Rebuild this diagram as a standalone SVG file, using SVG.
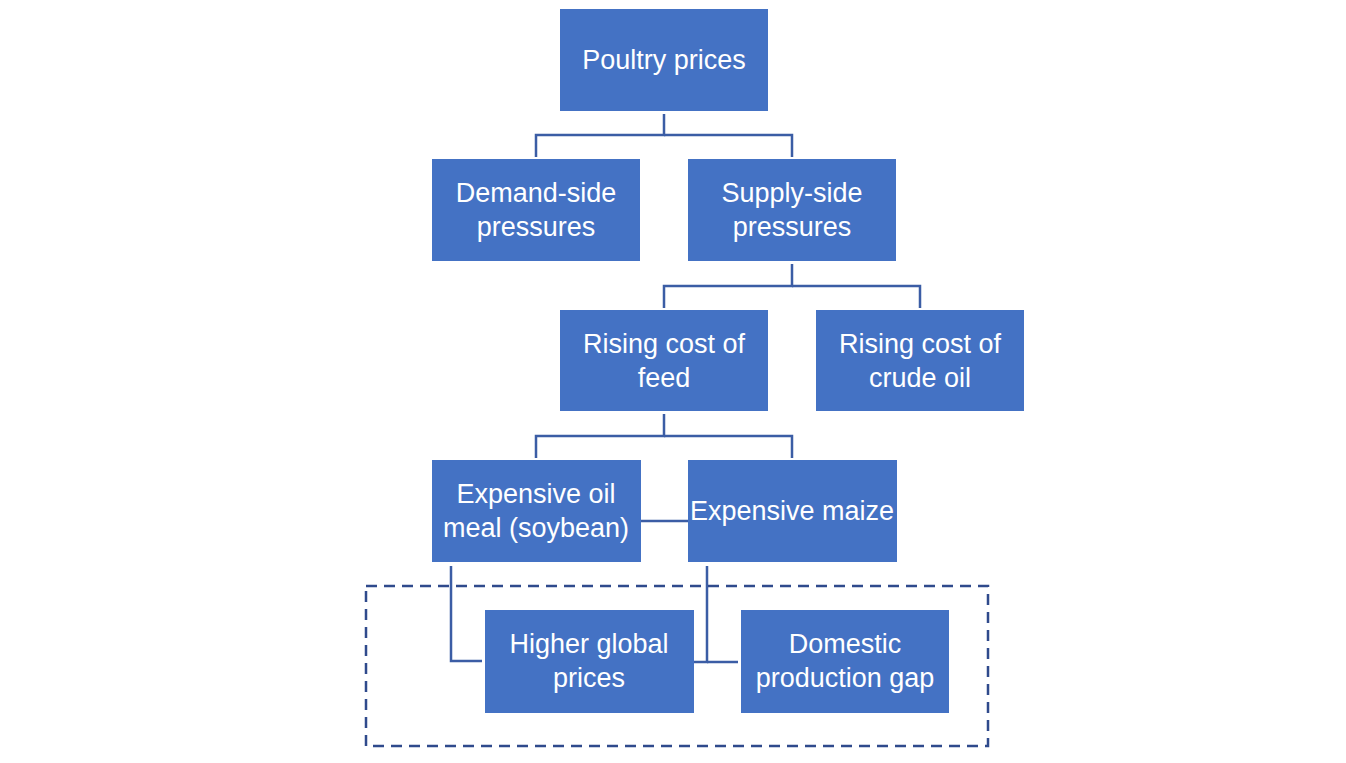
<svg xmlns="http://www.w3.org/2000/svg" width="1346" height="763" viewBox="0 0 1346 763">
<style>
.box{fill:#4472C4;}
.t{font-family:"Liberation Sans",Arial,sans-serif;font-size:27px;fill:#ffffff;text-anchor:middle;}
.c{fill:none;stroke:#3B5DA5;stroke-width:2.5;}
.d{fill:none;stroke:#2F4A8C;stroke-width:2.5;stroke-dasharray:11 7;}
</style>
<rect width="1346" height="763" fill="#ffffff"/>
<g id="connectors">
<polyline class="c" points="664,114 664,135 536,135 536,157"/>
<polyline class="c" points="664,135 792,135 792,157"/>
<polyline class="c" points="792,264 792,286 664,286 664,308"/>
<polyline class="c" points="792,286 920,286 920,308"/>
<polyline class="c" points="664,414 664,436 536,436 536,458"/>
<polyline class="c" points="664,436 792,436 792,458"/>
<line class="c" x1="641" y1="521" x2="688" y2="521"/>
<polyline class="c" points="451,566 451,661 482,661"/>
<polyline class="c" points="707,566 707,662 694,662"/>
<line class="c" x1="707" y1="662" x2="738" y2="662"/>
</g>
<rect id="group-box" class="d" x="366" y="586" width="622" height="160"/>
<g id="poultry"><rect class="box" x="560" y="9" width="208" height="102"/><text class="t" x="664" y="69">Poultry prices</text></g>
<g id="demand"><rect class="box" x="432" y="159" width="208" height="102"/><text class="t" x="536" y="202">Demand-side</text><text class="t" x="536" y="236">pressures</text></g>
<g id="supply"><rect class="box" x="688" y="159" width="208" height="102"/><text class="t" x="792" y="202">Supply-side</text><text class="t" x="792" y="236">pressures</text></g>
<g id="feed"><rect class="box" x="560" y="310" width="208" height="101"/><text class="t" x="664" y="353">Rising cost of</text><text class="t" x="664" y="387">feed</text></g>
<g id="crude"><rect class="box" x="816" y="310" width="208" height="101"/><text class="t" x="920" y="353">Rising cost of</text><text class="t" x="920" y="387">crude oil</text></g>
<g id="oilmeal"><rect class="box" x="432" y="460" width="209" height="102"/><text class="t" x="536" y="503">Expensive oil</text><text class="t" x="536" y="537">meal (soybean)</text></g>
<g id="maize"><rect class="box" x="688" y="460" width="209" height="102"/><text class="t" x="792" y="520">Expensive maize</text></g>
<g id="global"><rect class="box" x="485" y="610" width="209" height="103"/><text class="t" x="589" y="653">Higher global</text><text class="t" x="589" y="687">prices</text></g>
<g id="domestic"><rect class="box" x="741" y="610" width="208" height="103"/><text class="t" x="845" y="653">Domestic</text><text class="t" x="845" y="687">production gap</text></g>
</svg>
